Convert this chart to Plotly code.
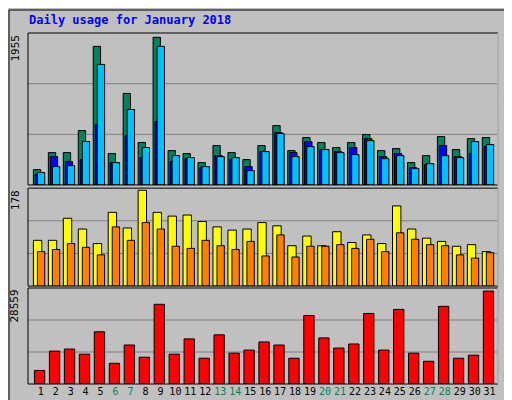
import plotly.graph_objects as go

days = list(range(1, 32))
weekend = [6, 7, 13, 14, 20, 21, 27, 28]
hits = [203,429,429,721,1835,416,1212,562,1955,455,416,296,522,429,336,522,787,455,628,562,495,562,668,455,482,296,389,641,469,614,628]
files = [141,376,309,336,800,296,654,362,840,309,349,230,389,336,243,442,694,429,575,469,442,495,614,376,416,230,270,522,376,416,508]
pages = [164,243,256,575,1596,296,999,495,1835,389,362,243,376,362,190,442,681,376,508,469,429,402,588,349,389,217,283,389,362,575,535]
visits = [85,85,126,106,79,137,108,178,137,130,132,120,110,104,106,118,112,75,93,75,101,81,95,79,149,106,89,83,74,77,64]
sites = [64,68,79,72,58,110,85,118,106,74,70,85,75,68,83,56,95,54,74,74,77,70,87,64,99,87,77,75,58,52,62]
kbytes = [4170,10110,10735,9170,16050,6360,11985,8230,24490,9170,13860,7920,15110,9480,10420,12920,11985,7920,21050,14170,11045,12300,21675,10420,22925,9480,6980,23860,7920,8860,28559]
ticktext = [f'<span style="color:#00805c">{d}</span>' if d in weekend else str(d) for d in days]

W = 470
def bar(y, color, off, wid, xa, ya):
    return go.Bar(x=days, y=y, marker=dict(color=color, line=dict(color="black", width=1)),
                  offset=off, width=wid, xaxis=xa, yaxis=ya, showlegend=False, hoverinfo="skip")

fig = go.Figure()
fig.add_trace(bar(hits, "#00805c", -0.49, 0.49, "x", "y"))
fig.add_trace(bar(files, "#0000ff", -0.36, 0.49, "x", "y"))
fig.add_trace(bar(pages, "#00c0ff", -0.22, 0.49, "x", "y"))
fig.add_trace(bar(visits, "#ffff00", -0.49, 0.56, "x2", "y2"))
fig.add_trace(bar(sites, "#ff8000", -0.22, 0.49, "x2", "y2"))
fig.add_trace(bar(kbytes, "#ff0000", -0.42, 0.69, "x3", "y3"))

xr = [0.15, 31.56]
mono = "DejaVu Sans Mono"
common_x = dict(range=xr, showgrid=False, zeroline=False, showline=False, fixedrange=True)
fig.update_layout(
    width=512, height=400, margin=dict(l=20, r=22, t=25, b=24),
    paper_bgcolor="#c0c0c0", plot_bgcolor="#c0c0c0", barmode="overlay",
    font=dict(family=mono, size=11, color="black"),
    xaxis=dict(**common_x, anchor="y", showticklabels=False),
    xaxis2=dict(**common_x, anchor="y2", showticklabels=False, matches="x"),
    xaxis3=dict(**common_x, anchor="y3", tickmode="array", tickvals=days, ticktext=ticktext,
                ticks="", tickangle=0, tickfont=dict(family=mono, size=10)),
    yaxis=dict(domain=[0.567, 1], range=[0, 2012], showticklabels=False, showgrid=False, zeroline=False),
    yaxis2=dict(domain=[0.279, 0.558], range=[0, 182], showticklabels=False, showgrid=False, zeroline=False),
    yaxis3=dict(domain=[0, 0.2735], range=[0, 29500], showticklabels=False, showgrid=False, zeroline=False),
)

shapes = []
for ya in ["y", "y2", "y3"]:
    for f in [1/3, 2/3]:
        shapes.append(dict(type="line", xref="paper", yref=f"{ya} domain", x0=0, x1=1, y0=f, y1=f,
                           line=dict(color="#808080", width=1), layer="below"))
    shapes.append(dict(type="rect", xref="paper", yref=f"{ya} domain", x0=0, x1=1, y0=0, y1=1,
                       line=dict(color="black", width=1)))
    shapes.append(dict(type="line", xref="paper", yref=f"{ya} domain", x0=1, x1=1, y0=0, y1=1,
                       line=dict(color="white", width=1)))
H = 351
shapes.append(dict(type="rect", xref="paper", yref="paper", x0=-19/W, x1=(W+20)/W, y0=-22/H, y1=(H+23)/H,
                   line=dict(color="black", width=1)))
fig.update_layout(shapes=shapes)

rx = (W + 10) / W
ann = [
    dict(text="<b>Daily usage for January 2018</b>", xref="paper", yref="paper", x=-1/W, y=(H+13)/H,
         xanchor="left", yanchor="middle", showarrow=False, font=dict(color="#0000ff", size=12, family=mono)),
    dict(text="1955", xref="paper", yref="paper", x=-13/W, y=1, textangle=-90, xanchor="center", yanchor="top",
         showarrow=False, font=dict(size=11)),
    dict(text="178", xref="paper", yref="paper", x=-13/W, y=0.558, textangle=-90, xanchor="center", yanchor="top",
         showarrow=False, font=dict(size=11)),
    dict(text="28559", xref="paper", yref="paper", x=-13/W, y=0.2735, textangle=-90, xanchor="center", yanchor="top",
         showarrow=False, font=dict(size=11)),
    dict(text='<span style="color:#00c0ff">Pages</span> / <span style="color:#0000ff">Files</span> / <span style="color:#00805c">Hits</span>',
         xref="paper", yref="paper", x=rx, y=1, textangle=-90, xanchor="center", yanchor="top",
         showarrow=False, font=dict(size=10)),
    dict(text='<span style="color:#ff8000">Sites</span> / <span style="color:#ffff00">Visits</span>',
         xref="paper", yref="paper", x=rx, y=0.558, textangle=-90, xanchor="center", yanchor="top",
         showarrow=False, font=dict(size=10)),
    dict(text='<span style="color:#ff0000">KBytes</span>',
         xref="paper", yref="paper", x=rx, y=0, textangle=-90, xanchor="center", yanchor="bottom",
         showarrow=False, font=dict(size=10)),
]
fig.update_layout(annotations=ann)
fig.write_html("out.html")
